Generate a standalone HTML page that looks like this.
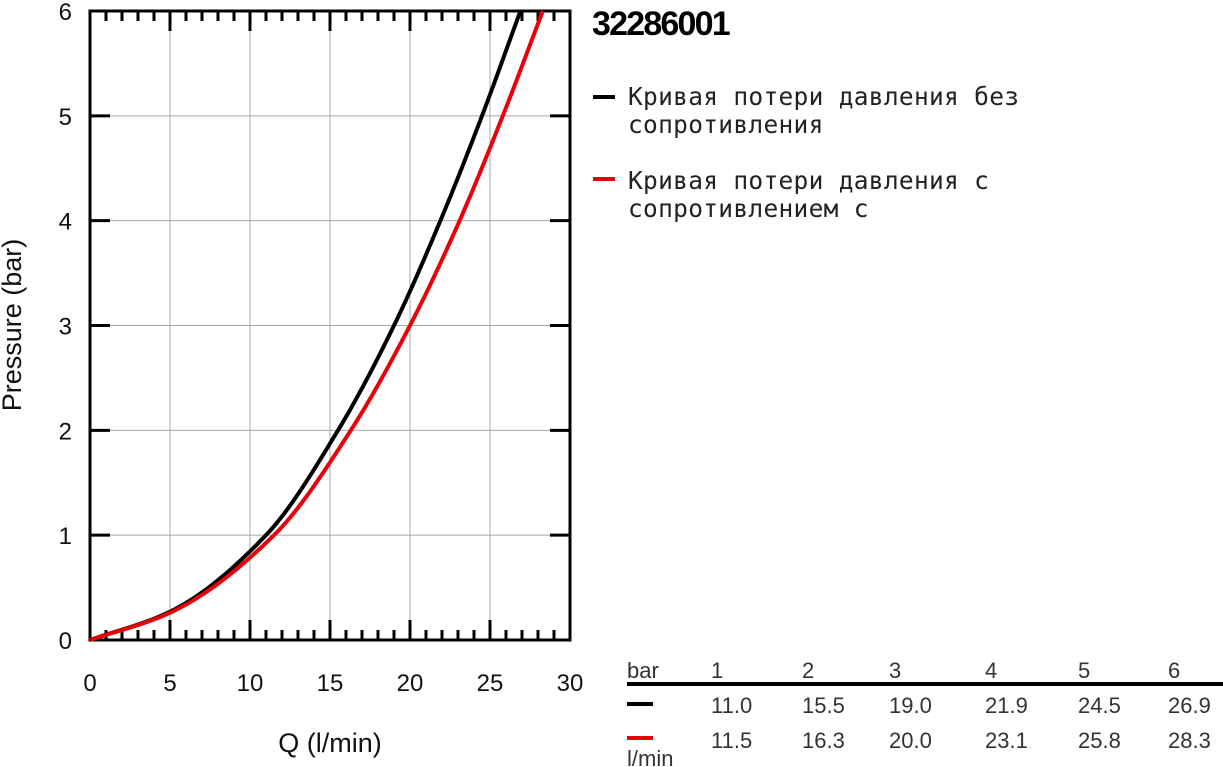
<!DOCTYPE html>
<html><head><meta charset="utf-8">
<style>
html,body{margin:0;padding:0;background:#fff;}
body{width:1223px;height:767px;overflow:hidden;position:relative;}
svg{position:absolute;left:0;top:0;}
</style></head>
<body>
<svg id="s" width="1223" height="767" xmlns="http://www.w3.org/2000/svg" font-family="Liberation Sans, Arial, sans-serif">
<g id="grid" stroke="#a8a8a8" stroke-width="1"></g>
<g id="ticks" stroke="#000" stroke-width="3"></g>
<rect x="90" y="11" width="480" height="629" fill="none" stroke="#000" stroke-width="3"/>
<path id="blk" fill="none" stroke="#000" stroke-width="4" stroke-linejoin="round"/>
<path id="red" fill="none" stroke="#e8000b" stroke-width="4" stroke-linejoin="round"/>
<g font-size="24" fill="#111" text-anchor="end" id="ylab"></g>
<g font-size="24" fill="#111" text-anchor="middle" id="xlab"></g>
<text x="330" y="752" font-size="27" text-anchor="middle" fill="#111">Q (l/min)</text>
<text transform="translate(21,325) rotate(-90)" font-size="27" text-anchor="middle" fill="#111">Pressure (bar)</text>
<text x="592" y="35" font-size="34" font-weight="bold" letter-spacing="-1.8" fill="#000">32286001</text>
<g font-family="DejaVu Sans Mono, Liberation Mono, monospace" font-size="24.5" letter-spacing="0.3" fill="#222">
<line x1="593" y1="97" x2="615" y2="97" stroke="#000" stroke-width="4"/>
<text x="628" y="105">Кривая потери давления без</text>
<text x="628" y="133">сопротивления</text>
<line x1="593" y1="179" x2="615" y2="179" stroke="#e8000b" stroke-width="4"/>
<text x="628" y="189">Кривая потери давления с</text>
<text x="628" y="217">сопротивлением с</text>
</g>
<g font-size="22" fill="#333">
<text x="627" y="678">bar</text>
<text x="711" y="678">1</text><text x="802" y="678">2</text><text x="889" y="678">3</text><text x="985" y="678">4</text><text x="1078" y="678">5</text><text x="1168" y="678">6</text>
<line x1="627" y1="684" x2="1223" y2="684" stroke="#000" stroke-width="4"/>
<line x1="627" y1="704" x2="653" y2="704" stroke="#000" stroke-width="4"/>
<text x="711" y="713">11.0</text><text x="802" y="713">15.5</text><text x="889" y="713">19.0</text><text x="985" y="713">21.9</text><text x="1078" y="713">24.5</text><text x="1168" y="713">26.9</text>
<line x1="627" y1="738" x2="653" y2="738" stroke="#e8000b" stroke-width="4"/>
<text x="711" y="748">11.5</text><text x="802" y="748">16.3</text><text x="889" y="748">20.0</text><text x="985" y="748">23.1</text><text x="1078" y="748">25.8</text><text x="1168" y="748">28.3</text>
<text x="627" y="766">l/min</text>
</g>
</svg>
<script>
var NS="http://www.w3.org/2000/svg";
function X(q){return 90+16*q;} function Y(p){return 640-104.83*p;}
function el(g,t,a,txt){var e=document.createElementNS(NS,t);for(var k in a)e.setAttribute(k,a[k]);if(txt!=null)e.textContent=txt;document.getElementById(g).appendChild(e);}
for(var q=5;q<30;q+=5)el("grid","line",{x1:X(q),y1:11,x2:X(q),y2:640});
for(var p=1;p<6;p++)el("grid","line",{x1:90,y1:Y(p),x2:570,y2:Y(p)});
for(var q=1;q<30;q++){var L=q%5==0?20:10;el("ticks","line",{x1:X(q),y1:640,x2:X(q),y2:640-L});el("ticks","line",{x1:X(q),y1:11,x2:X(q),y2:11+L});}
for(var p=1;p<6;p++){el("ticks","line",{x1:90,y1:Y(p),x2:110,y2:Y(p)});el("ticks","line",{x1:570,y1:Y(p),x2:550,y2:Y(p)});}
for(var p=0;p<=6;p++)el("ylab","text",{x:72,y:Y(p)+9},String(p));
for(var q=0;q<=30;q+=5)el("xlab","text",{x:X(q),y:691},String(q));
function mono(pts){
  var n=pts.length,xs=pts.map(function(p){return p[0]}),ys=pts.map(function(p){return p[1]});
  var d=[],m=[];
  for(var i=0;i<n-1;i++)d.push((ys[i+1]-ys[i])/(xs[i+1]-xs[i]));
  m[0]=d[0];m[n-1]=d[n-2];
  for(var i=1;i<n-1;i++){var h0=xs[i]-xs[i-1],h1=xs[i+1]-xs[i];var w1=2*h1+h0,w2=h1+2*h0;m[i]=(w1+w2)/(w1/d[i-1]+w2/d[i]);}
  var s="";
  for(var i=0;i<n-1;i++){var h=xs[i+1]-xs[i];
    for(var k=0;k<=20;k++){if(i>0&&k==0)continue;var t=k/20;var h00=2*t*t*t-3*t*t+1,h10=t*t*t-2*t*t+t,h01=-2*t*t*t+3*t*t,h11=t*t*t-t*t;
      var q=xs[i]+t*h,p=h00*ys[i]+h10*h*m[i]+h01*ys[i+1]+h11*h*m[i+1];
      s+=(s?" L":"M")+X(q).toFixed(2)+","+Y(p).toFixed(2);}}
  return s;}
document.getElementById("blk").setAttribute("d",mono([[0,0],[5,0.27],[11,1],[15.5,2],[19,3],[21.9,4],[24.5,5],[26.9,6]]));
document.getElementById("red").setAttribute("d",mono([[0,0],[5,0.26],[11.5,1],[16.3,2],[20,3],[23.1,4],[25.8,5],[28.3,6]]));
</script>
</body></html>
